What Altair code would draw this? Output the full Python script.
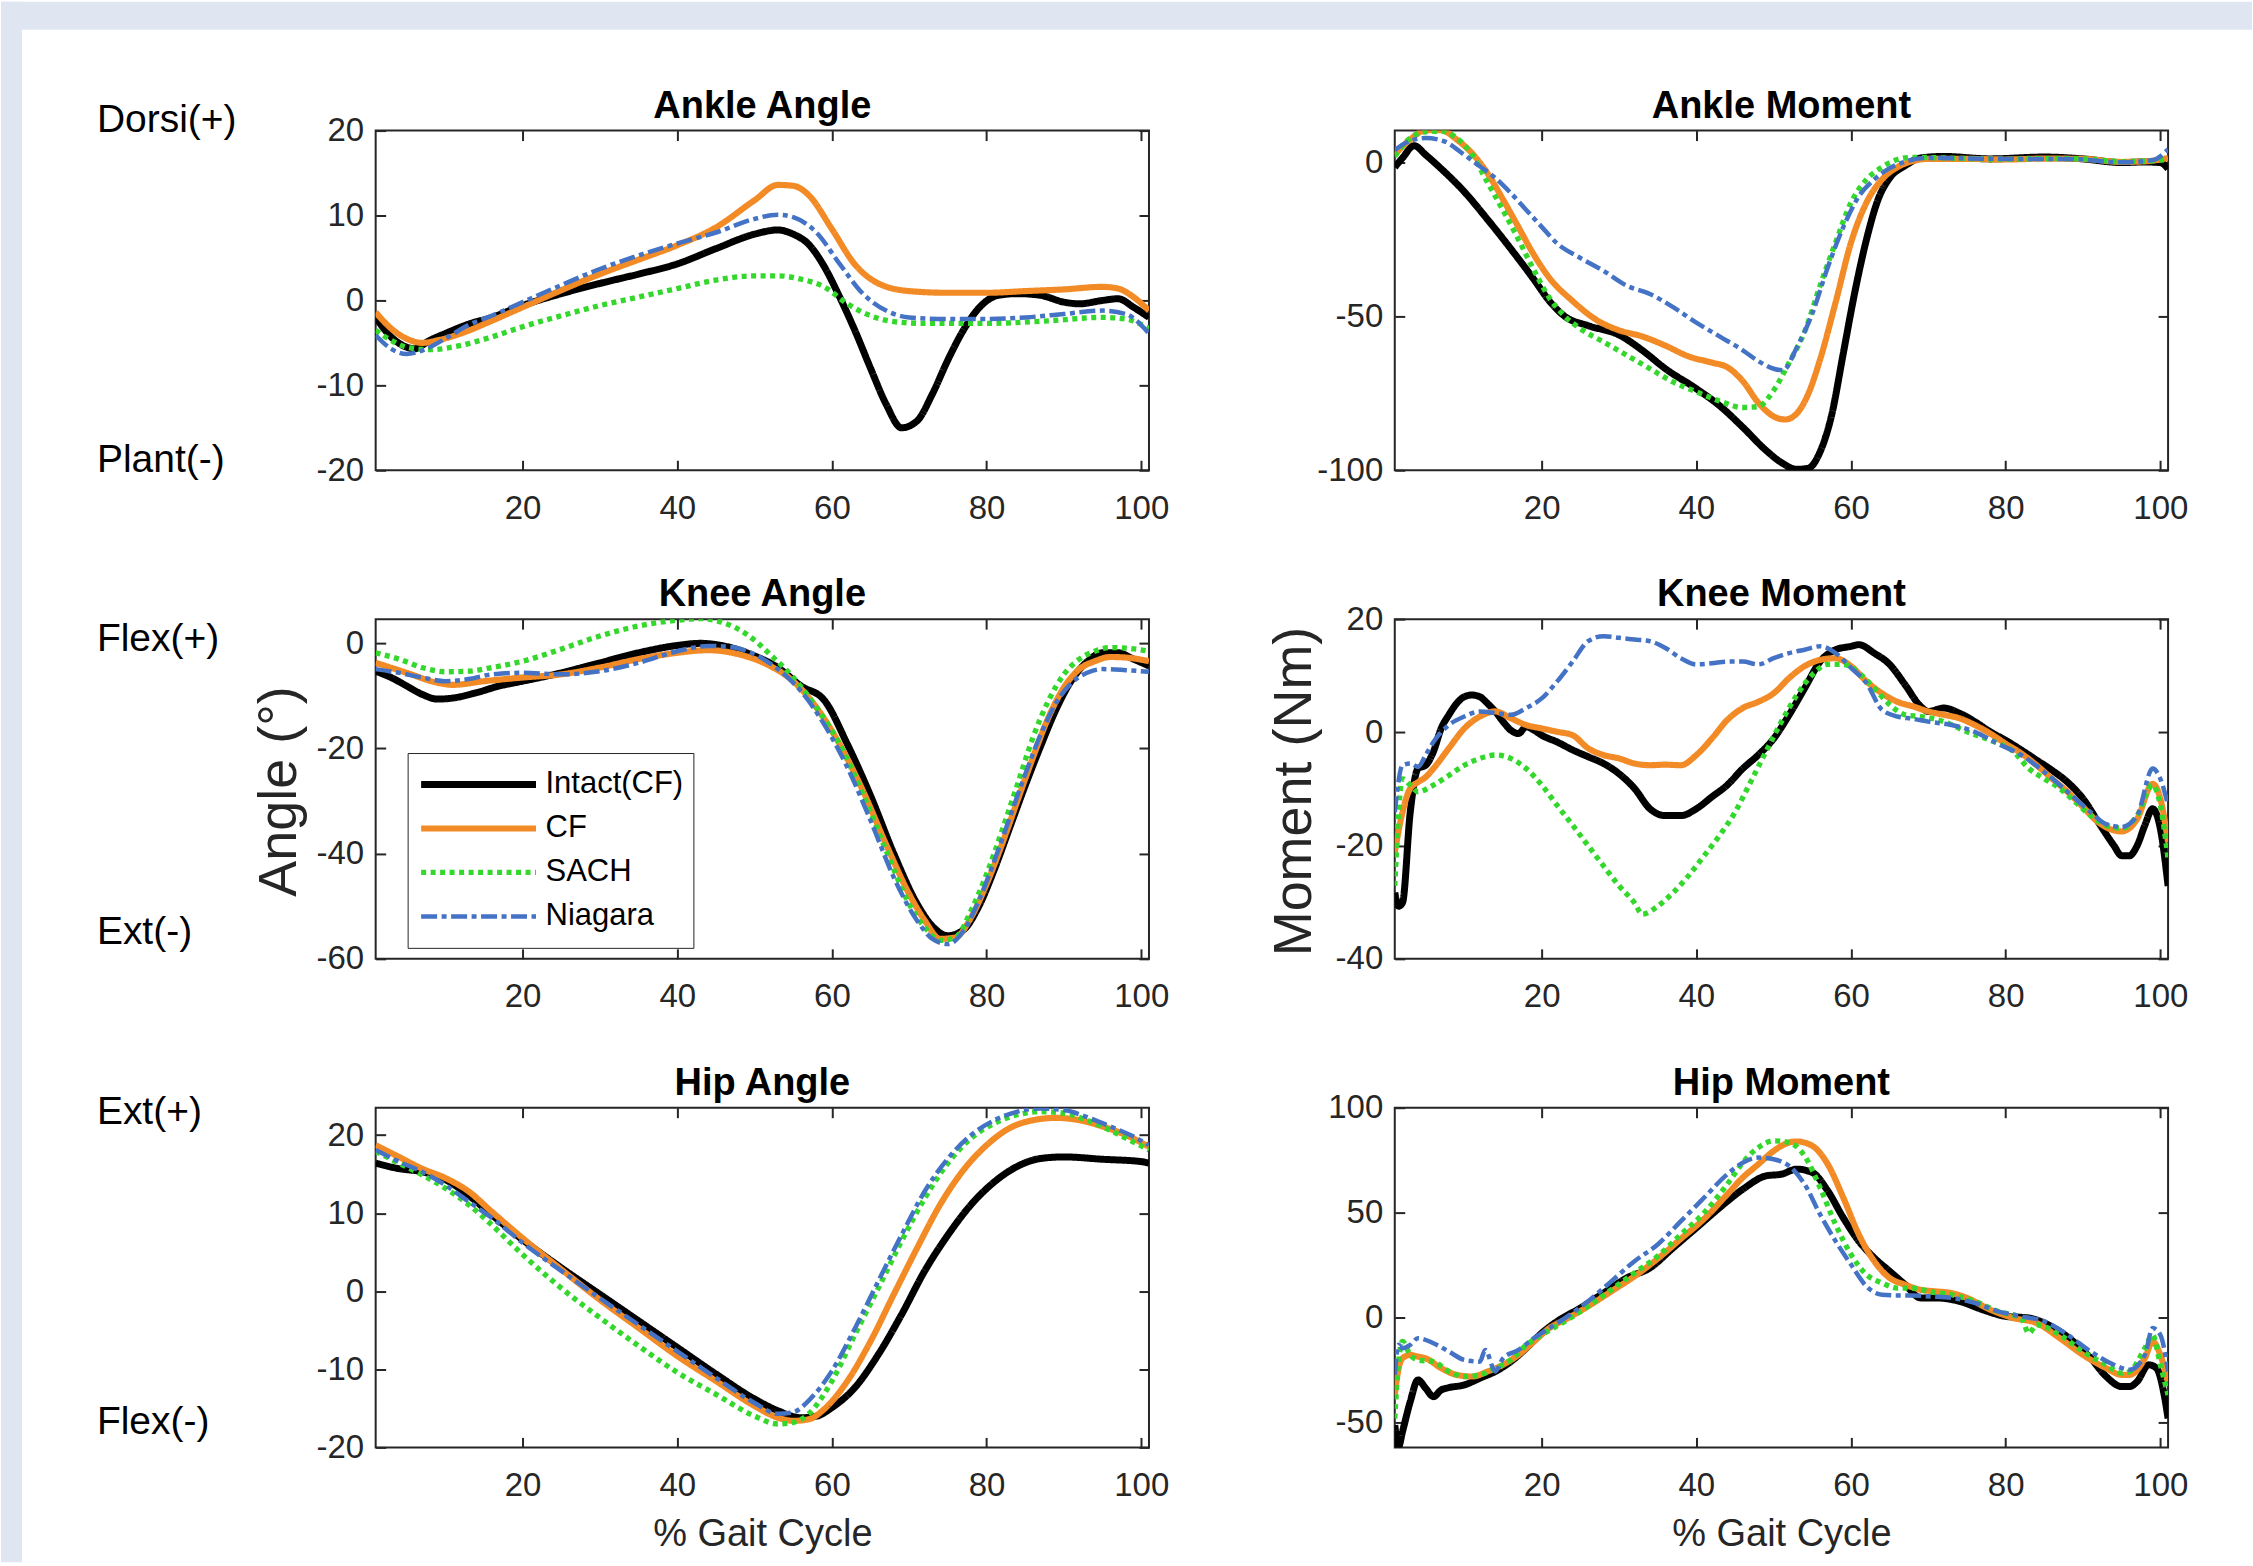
import altair as alt
import pandas as pd

FONT = "Liberation Sans"
INK = "#262626"
BAND = "#dfe6f2"

SERIES = ["Intact(CF)", "CF", "SACH", "Niagara"]
COLORS = ["#000000", "#f28a26", "#34d82c", "#4472c4"]
DASHES = [[1, 0], [1, 0], [5, 4.5], [16, 4.5, 5, 4.5]]
WIDTHS = [7, 4.5, 5, 5]

X_TICKS = [20, 40, 60, 80, 100]
X_DOMAIN = [1, 101]
TITLES = ["Ankle Angle", "Ankle Moment", "Knee Angle", "Knee Moment", "Hip Angle", "Hip Moment"]
Y_DOMAINS = [[-20, 20], [-100, 10.4], [-60, 4.6], [-40, 20], [-20, 23.5], [-62, 100]]
Y_TICKS = [[-20, -10, 0, 10, 20], [-100, -50, 0], [-60, -40, -20, 0], [-40, -20, 0, 20],
           [-20, -10, 0, 10, 20], [-50, 0, 50, 100]]
SIDE_LABELS = [("Dorsi(+)", "Plant(-)"), ("Flex(+)", "Ext(-)"), ("Ext(+)", "Flex(-)")]
Y_TITLES = [None, None, "Angle (°)", "Moment (Nm)", None, None]
X_TITLE = "% Gait Cycle"

# ---------------- Ankle angle ----------------
AA_INTACT_X = [1, 3, 5, 6, 8, 10, 13, 16, 20, 25, 30, 35, 40, 45, 50, 53, 55, 57, 59, 61, 63, 65, 67, 69, 71, 73, 75, 77, 79, 81.5, 84, 87, 90, 92, 95, 97, 99, 101]
AA_INTACT_Y = [-2.0, -4.3, -5.5, -5.7, -4.7, -3.9, -2.8, -2.0, -0.6, 0.8, 2.0, 3.1, 4.3, 6.1, 7.8, 8.3, 7.8, 6.6, 4.0, 0.4, -3.6, -8.0, -12.2, -15.0, -14.2, -11.0, -7.0, -3.5, -0.9, 0.6, 0.8, 0.6, -0.2, -0.4, 0.0, 0.2, -0.8, -2.0]
AA_CF_X = [1, 3, 5, 7, 9, 12, 16, 20, 25, 30, 35, 40, 45, 50, 53, 55, 57, 60, 63, 66, 70, 75, 80, 85, 90, 95, 97, 99, 101]
AA_CF_Y = [-1.4, -3.3, -4.5, -5.0, -4.7, -3.9, -2.4, -0.8, 1.2, 3.1, 4.8, 6.5, 8.6, 11.8, 13.6, 13.5, 12.4, 8.4, 4.2, 2.0, 1.1, 0.9, 0.9, 1.1, 1.3, 1.6, 1.4, 0.4, -1.2]
AA_SACH_X = [1, 3, 5, 8, 12, 16, 20, 25, 30, 35, 40, 45, 50, 53, 56, 59, 62, 65, 68, 72, 80, 88, 95, 98, 101]
AA_SACH_Y = [-3.5, -4.7, -5.5, -5.8, -5.3, -4.3, -3.1, -1.8, -0.6, 0.4, 1.4, 2.4, 2.9, 2.9, 2.5, 1.6, -0.4, -1.8, -2.5, -2.7, -2.7, -2.4, -2.0, -2.2, -3.3]
AA_NIAGARA_X = [1, 3, 5, 7, 10, 13, 16, 20, 25, 30, 35, 40, 45, 50, 53, 55, 58, 61, 64, 67, 70, 75, 80, 85, 90, 95, 98, 101]
AA_NIAGARA_Y = [-4.1, -5.7, -6.3, -5.9, -4.5, -2.9, -1.8, -0.2, 1.8, 3.7, 5.3, 6.7, 8.0, 9.6, 10.1, 9.8, 8.0, 4.3, 0.8, -1.2, -2.0, -2.2, -2.2, -2.0, -1.6, -1.2, -1.6, -3.9]

# ---------------- Ankle moment ----------------
AM_INTACT_X = [1, 2, 3.5, 5, 7, 10, 13, 16, 19, 21, 23, 26, 30, 33, 36, 40, 43, 46, 49, 51, 53, 54.5, 56, 57.5, 59, 60.5, 62, 63.5, 65, 67, 69, 72, 78, 85, 90, 95, 98, 100, 101]
AM_INTACT_Y = [-1.5, 1.5, 5.5, 2.5, -2.0, -9.5, -18.5, -28.0, -38.0, -45.0, -50.0, -53.0, -56.0, -61.0, -67.0, -73.5, -79.0, -86.0, -93.5, -97.5, -99.7, -99.3, -94.0, -82.0, -62.0, -42.0, -25.0, -12.0, -5.0, -1.0, 1.5, 2.0, 1.2, 1.8, 1.2, 0.0, 0.2, 0.0, -2.0]
AM_CF_X = [1, 3, 5, 7, 9, 11, 13, 15, 17, 19, 21, 24, 27, 30, 33, 36, 39, 42, 44, 46, 48, 50, 51.5, 53, 54.5, 56, 58, 60, 62, 64, 66, 68, 70, 75, 80, 85, 90, 95, 98, 100, 101]
AM_CF_Y = [2.6, 7.5, 10.5, 10.5, 7.5, 3.0, -3.5, -12.0, -21.0, -30.0, -37.5, -45.0, -51.0, -54.5, -56.5, -59.5, -63.0, -65.0, -66.5, -71.0, -78.0, -82.5, -83.5, -81.5, -75.0, -64.0, -45.5, -26.0, -13.0, -5.5, -1.5, 0.5, 1.2, 1.2, 1.0, 1.3, 1.2, 0.2, 0.4, 1.0, 1.5]
AM_SACH_X = [1, 2, 3, 5, 7, 9, 11, 13, 15, 17, 19, 21, 23, 25, 28, 31, 34, 37, 40, 43, 46, 48, 50, 52, 54, 56, 58, 60, 62, 64, 66, 68, 75, 80, 85, 90, 95, 98, 101]
AM_SACH_Y = [2.0, 5.5, 8.0, 10.0, 10.2, 8.0, 2.5, -6.5, -15.5, -25.0, -35.0, -44.0, -50.0, -54.0, -58.3, -62.6, -67.0, -71.3, -74.5, -77.5, -79.6, -79.3, -74.0, -65.0, -55.0, -40.0, -26.0, -13.0, -5.5, -1.5, 1.0, 1.7, 1.3, 1.1, 1.3, 1.2, 0.3, 0.5, 1.0]
AM_NIAGARA_X = [1, 2.5, 5, 7.5, 10, 12, 14, 16, 18, 20, 22, 25, 28, 31, 34, 37, 40, 43, 46, 48, 50, 51.2, 53, 55, 57, 59, 61, 63, 65, 67, 70, 80, 88, 95, 99, 101]
AM_NIAGARA_Y = [4.0, 6.5, 8.0, 6.8, 2.5, -1.2, -5.0, -9.9, -15.4, -20.9, -26.3, -31.0, -35.2, -40.0, -42.7, -47.0, -52.0, -56.5, -61.0, -64.5, -67.0, -67.5, -60.0, -49.0, -34.0, -21.0, -11.0, -5.5, -1.8, 0.3, 1.5, 1.2, 1.2, 0.1, 0.8, 4.3]

# ---------------- Knee angle ----------------
KA_INTACT_X = [1, 3, 5, 7, 9, 11, 14, 17, 20, 25, 30, 35, 40, 43, 46, 50, 53, 56, 59, 62, 65, 68, 71, 73, 75, 77, 79, 81, 83, 85, 87, 89, 91, 93, 95, 97, 99, 101]
KA_INTACT_Y = [-5.3, -6.5, -8.1, -9.7, -10.6, -10.4, -9.4, -8.1, -7.2, -5.6, -3.7, -1.8, -0.4, 0.0, -0.5, -2.4, -4.6, -8.1, -10.8, -19.2, -29.0, -40.0, -49.5, -53.8, -55.6, -54.5, -50.0, -43.0, -35.0, -27.0, -19.5, -12.5, -7.0, -3.5, -1.8, -1.8, -3.0, -4.3]
KA_CF_X = [1, 5, 9, 11, 15, 20, 25, 30, 35, 40, 44, 48, 52, 55, 58, 61, 64, 67, 70, 72, 74, 76, 78, 80, 82, 84, 86, 88, 90, 92, 94, 96, 98, 101]
KA_CF_Y = [-3.7, -5.6, -7.5, -7.9, -7.2, -6.5, -5.9, -4.6, -3.0, -1.8, -1.3, -2.1, -4.3, -7.2, -12.2, -19.2, -28.0, -38.2, -47.7, -52.7, -56.2, -55.9, -52.1, -45.8, -38.2, -29.9, -21.7, -14.1, -8.4, -4.9, -3.4, -2.6, -2.7, -3.4]
KA_SACH_X = [1, 4, 7, 10, 13, 16, 20, 25, 30, 35, 40, 43, 46, 49, 52, 55, 58, 61, 64, 67, 70, 72, 74, 76, 78, 80, 82, 84, 86, 88, 90, 92, 94, 96, 98, 101]
KA_SACH_Y = [-1.8, -3.0, -4.6, -5.4, -5.3, -4.6, -3.4, -1.1, 1.4, 3.3, 4.4, 4.7, 3.9, 1.7, -2.1, -6.5, -12.2, -19.2, -28.7, -39.4, -49.6, -54.0, -56.5, -55.9, -50.8, -43.9, -35.6, -26.8, -17.9, -10.9, -5.9, -3.0, -1.5, -0.8, -0.9, -1.5]
KA_NIAGARA_X = [1, 4, 7, 10, 13, 16, 20, 25, 30, 35, 40, 44, 47, 50, 53, 56, 59, 62, 65, 68, 71, 73, 75, 77, 79, 81, 83, 85, 87, 89, 91, 93, 95, 98, 101]
KA_NIAGARA_Y = [-4.9, -5.6, -6.5, -7.2, -6.8, -5.9, -5.6, -5.9, -5.3, -3.7, -1.5, -0.5, -0.7, -2.1, -4.9, -9.1, -15.4, -23.6, -33.7, -44.5, -52.7, -56.2, -57.2, -54.7, -48.9, -41.4, -33.1, -24.9, -17.3, -11.3, -7.5, -5.6, -4.9, -5.1, -5.4]

# ---------------- Knee moment ----------------
KM_INTACT_X = [1, 1.5, 2, 3, 4, 5, 6, 7, 8, 9, 10, 11, 12, 13, 14, 15, 16, 17, 18, 19, 20, 22, 24, 26, 28, 30, 32, 34, 36, 38, 40, 42, 44, 46, 48, 50, 52, 54, 56, 58, 60, 61, 63, 65, 67, 69, 70, 72, 74, 76, 78, 80, 82, 84, 86, 88, 90, 92, 94, 95, 96, 97, 98, 99, 100, 101]
KM_INTACT_Y = [-28.3, -30.7, -30.1, -14.1, -6.4, -5.8, -3.4, 0.7, 3.1, 5.1, 6.3, 6.6, 6.3, 5.1, 3.7, 1.9, 0.4, -0.2, 1.0, 0.4, -0.5, -1.7, -3.1, -4.3, -5.5, -7.3, -9.9, -13.5, -14.7, -14.7, -13.5, -11.4, -9.3, -6.4, -4.0, -1.1, 3.1, 7.8, 12.5, 14.6, 15.2, 15.5, 14.0, 12.0, 8.4, 4.6, 3.7, 4.3, 3.4, 1.9, 0.1, -1.4, -3.1, -4.9, -6.7, -8.8, -11.7, -15.9, -20.0, -21.8, -21.8, -20.0, -16.4, -13.5, -17.0, -27.1]
KM_CF_X = [1, 2, 3, 4, 5, 6, 8, 10, 12, 14, 16, 18, 20, 22, 24, 26, 28, 30, 32, 34, 36, 38, 40, 42, 44, 46, 48, 50, 52, 54, 56, 58, 60, 62, 64, 66, 68, 70, 72, 74, 76, 78, 80, 82, 84, 86, 88, 90, 92, 94, 95, 97, 99, 100, 101]
KM_CF_Y = [-21.2, -14.1, -9.9, -8.8, -7.9, -6.4, -2.8, 0.7, 2.8, 3.7, 2.5, 1.3, 0.7, 0.1, -0.5, -2.8, -4.0, -4.6, -5.5, -5.8, -5.7, -5.8, -4.0, -1.1, 2.2, 4.3, 5.4, 6.9, 9.6, 11.7, 12.8, 13.1, 11.7, 9.0, 6.9, 5.4, 4.6, 3.7, 3.1, 2.5, 1.3, -0.2, -2.0, -3.7, -5.8, -8.2, -10.5, -13.2, -15.9, -17.3, -17.5, -15.3, -9.1, -11.7, -19.4]
KM_SACH_X = [1, 2, 3, 4, 6, 8, 10, 12, 14, 16, 18, 20, 22, 24, 26, 28, 30, 32, 33, 35, 37, 39, 41, 43, 45, 47, 49, 51, 53, 55, 57, 59, 61, 63, 65, 67, 69, 72, 75, 78, 81, 83, 85, 87, 89, 91, 93, 95, 97, 99, 100, 101]
KM_SACH_Y = [-27.1, -8.2, -9.3, -10.5, -9.3, -7.6, -5.8, -4.6, -4.0, -4.6, -6.4, -9.3, -12.9, -16.4, -20.0, -23.6, -27.1, -30.1, -32.1, -30.7, -28.3, -25.3, -21.8, -18.2, -14.1, -8.8, -3.4, 1.9, 6.6, 10.2, 12.0, 12.0, 10.5, 7.8, 4.9, 3.1, 2.8, 1.9, 0.1, -1.4, -3.4, -6.4, -8.2, -9.9, -12.3, -14.7, -16.4, -16.9, -14.7, -9.3, -12.9, -22.4]
KM_NIAGARA_X = [1, 2, 3, 4, 5, 6, 8, 10, 12, 14, 16, 18, 20, 22, 24, 26, 28, 30, 32, 34, 36, 38, 40, 42, 44, 46, 48, 50, 52, 54, 56, 58, 60, 62, 64, 66, 68, 70, 73, 76, 79, 82, 85, 88, 91, 93, 95, 97, 99, 100, 101]
KM_NIAGARA_Y = [-14.1, -5.8, -5.5, -6.1, -4.0, -1.7, 1.3, 2.8, 3.7, 3.4, 3.1, 4.3, 6.0, 9.0, 12.5, 16.1, 17.0, 16.7, 16.4, 16.1, 14.9, 13.1, 12.0, 12.2, 12.5, 12.5, 12.0, 13.1, 14.0, 14.6, 15.2, 14.0, 11.4, 8.7, 4.0, 2.8, 2.4, 1.9, 1.3, 0.1, -2.0, -4.0, -7.0, -10.5, -14.1, -16.2, -16.7, -14.7, -6.4, -8.2, -12.9]

# ---------------- Hip angle ----------------
HA_INTACT_X = [1, 4, 7, 10, 13, 16, 20, 25, 30, 35, 40, 45, 50, 53, 56, 58, 60, 63, 66, 69, 72, 75, 78, 81, 84, 87, 90, 95, 100, 101]
HA_INTACT_Y = [16.4, 15.7, 15.3, 14.3, 12.3, 9.8, 6.6, 3.0, -0.4, -3.8, -7.2, -10.6, -13.8, -15.3, -16.2, -16.0, -14.9, -12.3, -8.1, -3.0, 2.6, 7.2, 11.1, 14.0, 16.0, 17.0, 17.2, 16.9, 16.6, 16.4]
HA_CF_X = [1, 4, 7, 10, 13, 16, 20, 25, 30, 35, 40, 45, 50, 53, 55, 57, 59, 62, 65, 68, 71, 74, 77, 80, 83, 86, 89, 92, 95, 98, 101]
HA_CF_Y = [18.7, 17.2, 15.7, 14.5, 12.8, 10.2, 6.8, 2.8, -1.1, -4.7, -8.3, -11.5, -14.7, -16.2, -16.6, -16.4, -15.1, -11.5, -6.4, -0.4, 5.5, 11.1, 15.5, 18.7, 20.9, 21.9, 22.2, 21.9, 21.1, 20.0, 18.5]
HA_SACH_X = [1, 4, 7, 10, 13, 16, 20, 25, 30, 35, 40, 45, 50, 53, 55, 57, 60, 63, 66, 69, 72, 75, 78, 81, 84, 87, 90, 93, 96, 99, 101]
HA_SACH_Y = [17.9, 16.4, 14.9, 13.2, 11.1, 8.5, 4.7, 0.4, -3.4, -7.0, -10.4, -13.2, -16.0, -17.0, -16.8, -15.7, -11.5, -5.5, 0.4, 6.4, 11.9, 16.4, 19.6, 21.5, 22.6, 23.0, 22.8, 21.9, 20.6, 19.1, 18.1]
HA_NIAGARA_X = [1, 4, 7, 10, 13, 16, 20, 25, 30, 35, 40, 45, 50, 53, 55, 57, 60, 63, 66, 69, 72, 75, 78, 81, 84, 87, 90, 93, 96, 99, 101]
HA_NIAGARA_Y = [18.1, 16.6, 15.3, 13.6, 11.5, 9.4, 6.2, 2.6, -0.9, -4.3, -7.7, -11.1, -14.3, -15.7, -15.5, -14.0, -10.2, -4.7, 1.3, 7.2, 12.8, 17.0, 20.0, 21.9, 23.0, 23.4, 23.2, 22.3, 21.1, 19.8, 18.7]

# ---------------- Hip moment ----------------
HM_INTACT_X = [1, 1.5, 2, 3, 4, 5, 6, 7, 8, 10, 12, 14, 16, 18, 20, 22, 25, 28, 31, 34, 37, 40, 43, 46, 49, 51, 53, 55, 57, 59, 61, 63, 65, 67, 69, 71, 74, 77, 80, 83, 85, 87, 89, 91, 93, 95, 96, 97, 98.5, 99.5, 100.5, 101]
HM_INTACT_Y = [-51.4, -61.5, -54.5, -40.2, -29.8, -33.8, -37.8, -34.6, -33.5, -32.2, -29.0, -25.8, -21.1, -14.7, -7.5, -1.9, 4.5, 11.6, 18.8, 23.6, 33.2, 42.7, 52.3, 61.1, 67.5, 68.3, 70.7, 69.1, 60.3, 47.5, 36.4, 28.4, 22.0, 15.6, 9.3, 9.3, 7.7, 3.7, 0.5, -0.3, -2.7, -6.7, -12.3, -19.5, -28.2, -33.0, -33.0, -30.6, -22.6, -24.2, -37.0, -48.2]
HM_CF_X = [1, 1.5, 2, 3, 4, 5, 7, 9, 11, 13, 15, 17, 19, 21, 23, 26, 29, 32, 35, 38, 41, 44, 46, 48, 50, 52, 53, 55, 57, 59, 61, 63, 65, 67, 69, 71, 73, 75, 78, 81, 84, 87, 90, 93, 95, 96, 98, 99, 100, 101]
HM_CF_Y = [-37.0, -24.2, -19.5, -17.9, -18.7, -19.5, -24.2, -27.4, -28.2, -25.8, -22.6, -17.9, -11.5, -5.1, -1.1, 5.3, 12.4, 19.6, 28.0, 37.5, 47.0, 58.7, 66.7, 73.0, 79.4, 83.4, 83.9, 81.8, 73.0, 57.1, 39.6, 26.8, 18.8, 15.6, 13.2, 12.4, 11.6, 9.3, 3.7, -0.3, -2.7, -9.9, -17.9, -24.2, -27.4, -27.4, -19.5, -11.5, -17.9, -30.6]
HM_SACH_X = [1, 1.5, 2, 3, 4, 6, 8, 10, 12, 14, 16, 18, 20, 23, 26, 29, 32, 35, 38, 41, 44, 46, 48, 50, 52, 54, 56, 58, 60, 62, 64, 66, 68, 70, 73, 76, 79, 82, 83, 84, 87, 90, 93, 95, 96, 98, 99, 100, 101]
HM_SACH_Y = [-48.2, -21.1, -11.5, -17.9, -20.3, -21.1, -25.8, -28.2, -27.4, -24.2, -20.3, -13.2, -8.3, -1.9, 5.3, 13.2, 21.2, 29.2, 39.6, 49.9, 63.5, 73.8, 81.0, 84.2, 83.4, 77.0, 61.9, 44.3, 30.0, 20.4, 16.4, 14.0, 14.0, 12.4, 10.8, 7.7, 2.9, -0.3, -7.5, -3.5, -8.3, -16.3, -22.6, -26.6, -25.8, -14.7, -8.3, -22.6, -37.0]
HM_NIAGARA_X = [1, 1.5, 2, 3, 4, 6, 8, 10, 12, 12.7, 14, 15, 17, 19, 21, 23, 26, 29, 32, 35, 38, 41, 44, 46, 48, 50, 52, 54, 56, 58, 60, 62, 64, 66, 68, 70, 73, 76, 79, 82, 85, 88, 91, 94, 96, 98, 99, 100, 101]
HM_NIAGARA_Y = [-27.4, -13.1, -14.7, -13.1, -9.9, -12.3, -16.3, -20.3, -21.1, -15.5, -25.8, -19.5, -15.5, -9.9, -5.1, -0.3, 7.7, 17.2, 26.8, 34.8, 45.9, 57.1, 68.3, 73.8, 76.2, 75.4, 72.2, 63.5, 49.1, 36.4, 25.2, 14.8, 10.8, 10.5, 10.5, 10.0, 9.3, 6.9, 2.9, 0.5, -1.9, -8.3, -16.3, -22.6, -25.0, -17.9, -5.1, -8.3, -25.8]

PANEL_DATA = [
    [(AA_INTACT_X, AA_INTACT_Y), (AA_CF_X, AA_CF_Y), (AA_SACH_X, AA_SACH_Y), (AA_NIAGARA_X, AA_NIAGARA_Y)],
    [(AM_INTACT_X, AM_INTACT_Y), (AM_CF_X, AM_CF_Y), (AM_SACH_X, AM_SACH_Y), (AM_NIAGARA_X, AM_NIAGARA_Y)],
    [(KA_INTACT_X, KA_INTACT_Y), (KA_CF_X, KA_CF_Y), (KA_SACH_X, KA_SACH_Y), (KA_NIAGARA_X, KA_NIAGARA_Y)],
    [(KM_INTACT_X, KM_INTACT_Y), (KM_CF_X, KM_CF_Y), (KM_SACH_X, KM_SACH_Y), (KM_NIAGARA_X, KM_NIAGARA_Y)],
    [(HA_INTACT_X, HA_INTACT_Y), (HA_CF_X, HA_CF_Y), (HA_SACH_X, HA_SACH_Y), (HA_NIAGARA_X, HA_NIAGARA_Y)],
    [(HM_INTACT_X, HM_INTACT_Y), (HM_CF_X, HM_CF_Y), (HM_SACH_X, HM_SACH_Y), (HM_NIAGARA_X, HM_NIAGARA_Y)],
]

# ---------------- layout ----------------
W, H = 774, 340
ORIGIN_X, ORIGIN_Y = 375, 129          # plot-area origin of first panel on the page
PAGE_W, PAGE_H = 2253, 1562
BAND_LEFT, BAND_TOP = 21, 28
SIDE_Y = [(1, 342), (32, 325), (16, 327)]
PLAIN_LABEL = "'' + datum.value"       # hyphen-minus like the original

LEG = alt.Legend(
    title=None, orient="none", legendX=32, legendY=623,
    symbolType="stroke", symbolSize=13225, clipHeight=43, rowPadding=1,
    labelFont=FONT, labelFontSize=31, labelColor="black", labelOffset=6,
    padding=10, strokeColor=INK, fillColor="white", labelLimit=400,
)


def lines_df(series_lists):
    rows = []
    for name, (xs, ys) in zip(SERIES, series_lists):
        for x, y in zip(xs, ys):
            rows.append({"series": name, "x": x, "y": y})
    return pd.DataFrame(rows)


def text_layer(txt, x, y, size, weight="normal", align="left"):
    return alt.Chart(pd.DataFrame({"t": [txt]})).mark_text(
        font=FONT, fontSize=size, fontWeight=weight, color="black",
        align=align, baseline="alphabetic",
    ).encode(text="t:N", x=alt.value(x), y=alt.value(y))


def panel(i):
    df = lines_df(PANEL_DATA[i])
    col, row = i % 2, i // 2
    xs = alt.Scale(domain=X_DOMAIN, nice=False, zero=False)
    ys = alt.Scale(domain=Y_DOMAINS[i], nice=False, zero=False)

    xaxis_kw = dict(orient="bottom", values=X_TICKS, offset=-10, tickSize=10,
                    labelPadding=22, labelExpr=PLAIN_LABEL)
    if row == 2:
        xaxis_kw.update(title=X_TITLE, titleFontSize=38, titleX=W / 2, titleY=108,
                        titleAlign="center", titleBaseline="alphabetic", titleAngle=0)
    else:
        xaxis_kw.update(title=None)
    yaxis_kw = dict(orient="left", values=Y_TICKS[i], offset=-10, tickSize=10,
                    labelPadding=12, labelExpr=PLAIN_LABEL)
    if Y_TITLES[i]:
        yaxis_kw.update(title=Y_TITLES[i], titleFontSize=54,
                        titleX=-90 if col == 0 else -94, titleY=172, titleAngle=270,
                        titleAlign="center", titleBaseline="alphabetic")
    else:
        yaxis_kw.update(title=None)

    lines = alt.Chart(df).mark_line(interpolate="monotone", clip=True, strokeJoin="round").encode(
        x=alt.X("x:Q", scale=xs, axis=alt.Axis(**xaxis_kw)),
        y=alt.Y("y:Q", scale=ys, axis=alt.Axis(**yaxis_kw)),
        color=alt.Color("series:N", scale=alt.Scale(domain=SERIES, range=COLORS), legend=LEG),
        strokeDash=alt.StrokeDash("series:N", scale=alt.Scale(domain=SERIES, range=DASHES), legend=LEG),
        strokeWidth=alt.StrokeWidth("series:N", scale=alt.Scale(domain=SERIES, range=WIDTHS), legend=LEG),
    )
    frame = alt.Chart(df).mark_point(opacity=0).encode(
        x=alt.X("x:Q", scale=xs, axis=alt.Axis(orient="top", values=X_TICKS, offset=-10,
                                               tickSize=10, labels=False, title=None)),
        y=alt.Y("y:Q", scale=ys, axis=alt.Axis(orient="right", values=Y_TICKS[i], offset=-10,
                                               tickSize=10, labels=False, title=None)),
    )
    layers = []
    if i == 0:
        band = pd.DataFrame({"k": [0]})
        layers.append(alt.Chart(band).mark_rect(color=BAND).encode(
            x=alt.value(-ORIGIN_X), x2=alt.value(PAGE_W - ORIGIN_X),
            y=alt.value(-ORIGIN_Y), y2=alt.value(BAND_TOP - ORIGIN_Y)))
        layers.append(alt.Chart(band).mark_rect(color=BAND).encode(
            x=alt.value(-ORIGIN_X), x2=alt.value(BAND_LEFT - ORIGIN_X),
            y=alt.value(-ORIGIN_Y), y2=alt.value(PAGE_H - ORIGIN_Y)))
    layers += [lines, frame, text_layer(TITLES[i], W / 2, -13, 38, "bold", "center")]
    if col == 0:
        for txt, yy in zip(SIDE_LABELS[row], SIDE_Y[row]):
            layers.append(text_layer(txt, -279, yy, 39))
    return alt.layer(*layers).resolve_axis(x="independent", y="independent").properties(width=W, height=H)


chart = alt.concat(
    *[panel(i) for i in range(6)],
    columns=2, spacing={"row": 149, "column": 246}, bounds="flush",
).resolve_scale(
    x="independent", y="independent", color="shared", strokeDash="shared", strokeWidth="shared"
).properties(padding=0).configure(background="white", font=FONT).configure_view(
    stroke=INK, strokeWidth=2
).configure_axis(
    labelFont=FONT, labelFontSize=33, labelColor=INK, tickColor=INK, tickWidth=2,
    domain=False, grid=False, titleFont=FONT, titleFontWeight="normal", titleColor=INK,
)

chart.save("out.html", embed_options={"renderer": "svg", "actions": False})
